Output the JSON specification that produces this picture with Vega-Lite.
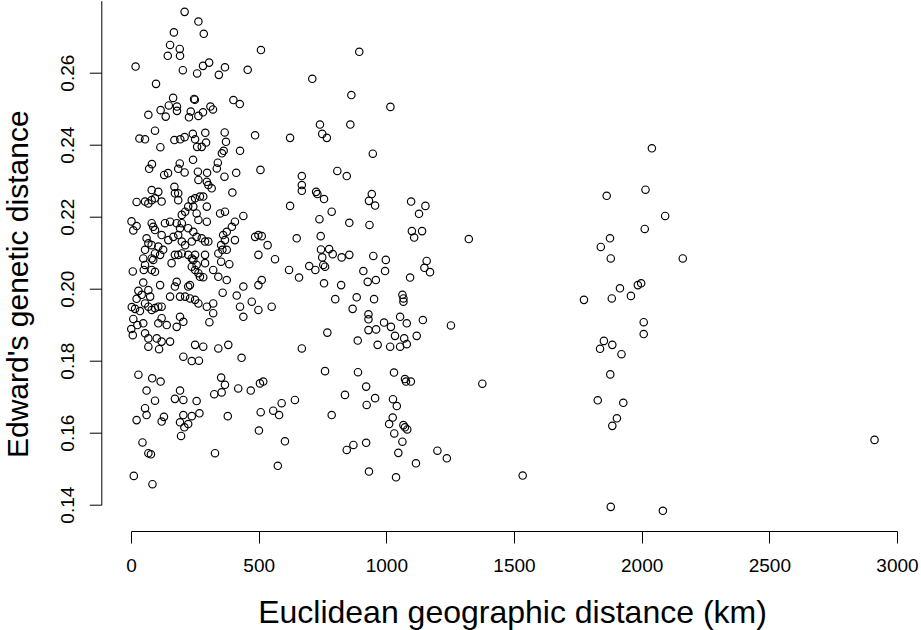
{
"$schema":"https://vega.github.io/schema/vega-lite/v6.json",
"width":766,"height":504,
"autosize":{"type":"none"},
"padding":{"left":131,"top":0.7,"right":24,"bottom":125.3},
"background":"white",
"config":{"view":{"stroke":null},"font":"Liberation Sans"},
"data":{"values":[
{"km":210,"d":0.2769},{"km":264,"d":0.2742},{"km":168,"d":0.2712},{"km":285,"d":0.2708},{"km":153,"d":0.2677},{"km":191,"d":0.2666},{"km":144,"d":0.2647},{"km":192,"d":0.2647},{"km":509,"d":0.2663},{"km":306,"d":0.2628},{"km":282,"d":0.2619},{"km":203,"d":0.2607},{"km":259,"d":0.2598},{"km":368,"d":0.2615},{"km":344,"d":0.2594},{"km":457,"d":0.2608},{"km":98,"d":0.2569},{"km":165,"d":0.253},{"km":247,"d":0.2527},{"km":250,"d":0.2525},{"km":401,"d":0.2524},{"km":426,"d":0.2513},{"km":148,"d":0.2509},{"km":180,"d":0.2506},{"km":116,"d":0.2496},{"km":68,"d":0.2483},{"km":136,"d":0.2478},{"km":180,"d":0.2494},{"km":234,"d":0.2492},{"km":227,"d":0.2476},{"km":264,"d":0.248},{"km":282,"d":0.249},{"km":311,"d":0.2506},{"km":321,"d":0.2498},{"km":94,"d":0.2439},{"km":55,"d":0.2415},{"km":115,"d":0.2393},{"km":170,"d":0.2413},{"km":193,"d":0.2415},{"km":210,"d":0.2421},{"km":242,"d":0.243},{"km":291,"d":0.2433},{"km":251,"d":0.2415},{"km":259,"d":0.2394},{"km":277,"d":0.2394},{"km":294,"d":0.2406},{"km":367,"d":0.2434},{"km":372,"d":0.2408},{"km":363,"d":0.2383},{"km":356,"d":0.2376},{"km":427,"d":0.2383},{"km":486,"d":0.2426},{"km":623,"d":0.2419},{"km":243,"d":0.2358},{"km":82,"d":0.2346},{"km":71,"d":0.2333},{"km":130,"d":0.2316},{"km":145,"d":0.2321},{"km":191,"d":0.2348},{"km":185,"d":0.2333},{"km":210,"d":0.2323},{"km":262,"d":0.2325},{"km":298,"d":0.2322},{"km":340,"d":0.235},{"km":336,"d":0.2334},{"km":366,"d":0.2311},{"km":412,"d":0.2322},{"km":507,"d":0.233},{"km":669,"d":0.2313},
{"km":81,"d":0.2274},{"km":107,"d":0.2269},{"km":170,"d":0.2283},{"km":172,"d":0.2265},{"km":185,"d":0.2265},{"km":185,"d":0.2246},{"km":264,"d":0.2302},{"km":297,"d":0.2297},{"km":303,"d":0.2288},{"km":316,"d":0.2279},{"km":397,"d":0.2267},{"km":669,"d":0.2288},{"km":669,"d":0.2272},{"km":55,"d":0.2242},{"km":68,"d":0.2237},{"km":81,"d":0.2246},{"km":94,"d":0.2251},{"km":120,"d":0.2242},{"km":238,"d":0.2246},{"km":251,"d":0.2251},{"km":270,"d":0.2256},{"km":283,"d":0.2256},{"km":297,"d":0.2228},{"km":224,"d":0.2228},{"km":244,"d":0.2228},{"km":212,"d":0.2214},{"km":199,"d":0.2205},{"km":257,"d":0.2209},{"km":264,"d":0.2191},{"km":297,"d":0.2186},{"km":349,"d":0.2209},{"km":368,"d":0.2214},{"km":440,"d":0.2202},{"km":407,"d":0.2186},{"km":395,"d":0.2172},{"km":375,"d":0.2158},{"km":623,"d":0.223},{"km":81,"d":0.2182},{"km":87,"d":0.2172},{"km":94,"d":0.2163},{"km":133,"d":0.2182},{"km":153,"d":0.2186},{"km":179,"d":0.2182},{"km":192,"d":0.2168},{"km":199,"d":0.2182},{"km":224,"d":0.2168},{"km":244,"d":0.2158},{"km":185,"d":0.2149},{"km":166,"d":0.2144},{"km":146,"d":0.2135},{"km":120,"d":0.2149},{"km":61,"d":0.214},{"km":68,"d":0.2126},{"km":81,"d":0.2121},{"km":55,"d":0.2108},{"km":107,"d":0.2117},{"km":126,"d":0.2108},{"km":94,"d":0.2098},{"km":114,"d":0.2094},{"km":81,"d":0.2084},{"km":199,"d":0.2131},{"km":212,"d":0.2121},{"km":238,"d":0.2131},{"km":257,"d":0.2144},{"km":277,"d":0.214},{"km":290,"d":0.2131},{"km":303,"d":0.2131},{"km":361,"d":0.2149},{"km":368,"d":0.2135},{"km":353,"d":0.2121},{"km":358,"d":0.2108},{"km":375,"d":0.2108},{"km":342,"d":0.2098},{"km":407,"d":0.2135},{"km":486,"d":0.2144},{"km":499,"d":0.2149},{"km":512,"d":0.2146},{"km":535,"d":0.2121},{"km":649,"d":0.214},{"km":172,"d":0.2094},{"km":185,"d":0.2094},{"km":199,"d":0.2098},{"km":224,"d":0.2094},{"km":238,"d":0.2084},{"km":251,"d":0.2094},{"km":244,"d":0.208},{"km":257,"d":0.2066},{"km":238,"d":0.2061},{"km":290,"d":0.2094},{"km":290,"d":0.2071},{"km":159,"d":0.2071},{"km":87,"d":0.208},{"km":81,"d":0.2052},{"km":94,"d":0.2047},{"km":55,"d":0.2066},{"km":50,"d":0.2052},{"km":114,"d":0.201},{"km":499,"d":0.2094},{"km":564,"d":0.2082},{"km":353,"d":0.2075},{"km":385,"d":0.2068},{"km":322,"d":0.2052},{"km":342,"d":0.2033},{"km":375,"d":0.2024},{"km":251,"d":0.2052},{"km":264,"d":0.2043},{"km":270,"d":0.2033},{"km":283,"d":0.2032},{"km":179,"d":0.2019},{"km":172,"d":0.2006},{"km":224,"d":0.2006},{"km":231,"d":0.201},{"km":619,"d":0.2052},{"km":658,"d":0.2031},{"km":499,"d":0.201},{"km":512,"d":0.2024},{"km":440,"d":0.2006},{"km":414,"d":0.1981},{"km":359,"d":0.1989},{"km":68,"d":0.1996},{"km":75,"d":0.1978},{"km":153,"d":0.1978},{"km":192,"d":0.1978},{"km":212,"d":0.1978},{"km":231,"d":0.1973},{"km":251,"d":0.1969},{"km":264,"d":0.1959},{"km":297,"d":0.195},{"km":322,"d":0.1959},{"km":322,"d":0.1932},{"km":427,"d":0.195},{"km":473,"d":0.1964},{"km":499,"d":0.1941},{"km":440,"d":0.1922},{"km":551,"d":0.195},{"km":55,"d":0.1959},{"km":68,"d":0.195},{"km":81,"d":0.1941},{"km":94,"d":0.1946},{"km":107,"d":0.195},{"km":120,"d":0.195},{"km":120,"d":0.1918},{"km":107,"d":0.1904},{"km":140,"d":0.1899},{"km":179,"d":0.1894},{"km":192,"d":0.1922},{"km":205,"d":0.1908},{"km":307,"d":0.1907},{"km":55,"d":0.1876},{"km":68,"d":0.1862},{"km":101,"d":0.1862},{"km":120,"d":0.1853},{"km":153,"d":0.1853},{"km":251,"d":0.1844},{"km":283,"d":0.1839},{"km":342,"d":0.1834},{"km":381,"d":0.1844},{"km":669,"d":0.1834},
{"km":18,"d":0.2617},{"km":33,"d":0.2417},{"km":22,"d":0.2241},{"km":2,"d":0.2187},{"km":9,"d":0.2162},{"km":22,"d":0.2174},{"km":7,"d":0.2048},{"km":29,"d":0.1994},{"km":42,"d":0.1983},{"km":22,"d":0.1972},{"km":3,"d":0.1949},{"km":16,"d":0.1944},{"km":9,"d":0.1916},{"km":1,"d":0.1888},{"km":7,"d":0.1871},{"km":25,"d":0.1899},{"km":48,"d":0.1904},{"km":35,"d":0.1938},{"km":48,"d":0.2017},{"km":29,"d":0.1761},{"km":22,"d":0.1635},{"km":11,"d":0.148},{"km":84,"d":0.1457},{"km":48,"d":0.2084},
{"km":68,"d":0.1839},{"km":110,"d":0.1832},{"km":433,"d":0.1808},{"km":205,"d":0.1811},{"km":238,"d":0.1799},{"km":266,"d":0.18},{"km":83,"d":0.1751},{"km":116,"d":0.1742},{"km":61,"d":0.1717},{"km":94,"d":0.1689},{"km":55,"d":0.1668},{"km":61,"d":0.1649},{"km":192,"d":0.1717},{"km":172,"d":0.1694},{"km":205,"d":0.1691},{"km":257,"d":0.1688},{"km":353,"d":0.1753},{"km":368,"d":0.1733},{"km":326,"d":0.1707},{"km":355,"d":0.1712},{"km":420,"d":0.1723},{"km":469,"d":0.1717},{"km":505,"d":0.1737},{"km":518,"d":0.1742},{"km":642,"d":0.1691},{"km":590,"d":0.1682},{"km":557,"d":0.1661},{"km":580,"d":0.1649},{"km":508,"d":0.1657},{"km":129,"d":0.1644},{"km":120,"d":0.1631},{"km":205,"d":0.1649},{"km":238,"d":0.1646},{"km":268,"d":0.1654},{"km":192,"d":0.1629},{"km":224,"d":0.1624},{"km":209,"d":0.1615},{"km":379,"d":0.1646},{"km":196,"d":0.1591},{"km":501,"d":0.1606},{"km":603,"d":0.1576},{"km":45,"d":0.1573},{"km":68,"d":0.1543},{"km":78,"d":0.154},{"km":329,"d":0.1543},{"km":575,"d":0.1508},
{"km":894,"d":0.2658},{"km":710,"d":0.2583},{"km":863,"d":0.2538},{"km":1016,"d":0.2505},{"km":740,"d":0.2456},{"km":749,"d":0.243},{"km":767,"d":0.2419},{"km":859,"d":0.2456},{"km":947,"d":0.2375},{"km":808,"d":0.2327},{"km":845,"d":0.2313},
{"km":725,"d":0.2269},{"km":730,"d":0.2263},{"km":756,"d":0.2249},{"km":786,"d":0.2214},{"km":738,"d":0.2193},{"km":855,"d":0.2183},{"km":934,"d":0.2177},{"km":943,"d":0.2263},{"km":932,"d":0.2244},{"km":956,"d":0.2231},{"km":1097,"d":0.2242},{"km":1153,"d":0.223},{"km":1128,"d":0.2208},{"km":1100,"d":0.216},{"km":1140,"d":0.216},{"km":1109,"d":0.2142},{"km":743,"d":0.2146},{"km":744,"d":0.2109},{"km":776,"d":0.211},{"km":790,"d":0.2096},{"km":825,"d":0.2087},{"km":855,"d":0.2094},{"km":749,"d":0.2087},{"km":753,"d":0.2066},{"km":760,"d":0.2061},{"km":698,"d":0.2063},{"km":722,"d":0.2052},{"km":949,"d":0.2091},{"km":998,"d":0.208},{"km":995,"d":0.2049},{"km":910,"d":0.2049},{"km":1158,"d":0.2077},{"km":1149,"d":0.2058},{"km":1171,"d":0.2046},{"km":927,"d":0.2019},{"km":959,"d":0.2024},{"km":1093,"d":0.2031},{"km":756,"d":0.2015},{"km":823,"d":0.201},{"km":800,"d":0.1971},{"km":884,"d":0.1976},{"km":868,"d":0.1944},{"km":952,"d":0.1971},{"km":1063,"d":0.1983},{"km":1067,"d":0.1973},{"km":1067,"d":0.1964},{"km":930,"d":0.1929},{"km":930,"d":0.1915},{"km":1054,"d":0.1922},{"km":1080,"d":0.1904},{"km":1143,"d":0.1913},{"km":1253,"d":0.1898},{"km":769,"d":0.1878},{"km":991,"d":0.1906},{"km":1018,"d":0.1894},{"km":960,"d":0.1887},{"km":930,"d":0.1885},{"km":1034,"d":0.1869},{"km":1070,"d":0.1862},{"km":1119,"d":0.1869},{"km":888,"d":0.1856},{"km":966,"d":0.1844},{"km":1015,"d":0.1839},{"km":1054,"d":0.1839},{"km":1080,"d":0.1846},
{"km":760,"d":0.1771},{"km":889,"d":0.1768},{"km":1030,"d":0.1767},{"km":1073,"d":0.1749},{"km":1077,"d":0.1742},{"km":1096,"d":0.1742},{"km":921,"d":0.1728},{"km":838,"d":0.1705},{"km":956,"d":0.1696},{"km":923,"d":0.1677},{"km":1026,"d":0.1693},{"km":1041,"d":0.1674},{"km":786,"d":0.1649},{"km":1025,"d":0.1642},{"km":1011,"d":0.1624},{"km":1031,"d":0.1598},{"km":1067,"d":0.1621},{"km":1073,"d":0.1615},{"km":1082,"d":0.1609},{"km":1063,"d":0.1575},{"km":871,"d":0.1566},{"km":845,"d":0.1552},{"km":921,"d":0.1572},{"km":1047,"d":0.1544},{"km":1200,"d":0.155},{"km":1237,"d":0.1529},{"km":1116,"d":0.1515},{"km":932,"d":0.1492},{"km":1038,"d":0.1476},
{"km":2040,"d":0.239},{"km":1863,"d":0.2258},{"km":2015,"d":0.2275},{"km":2012,"d":0.2166},{"km":1323,"d":0.2138},{"km":1876,"d":0.214},{"km":1840,"d":0.2116},{"km":1879,"d":0.2084},
{"km":1915,"d":0.2001},{"km":1958,"d":0.198},{"km":1883,"d":0.1973},{"km":1985,"d":0.201},{"km":1998,"d":0.2015},{"km":1774,"d":0.1969},{"km":2008,"d":0.1907},{"km":2008,"d":0.1874},{"km":1852,"d":0.1855},{"km":1837,"d":0.1833},{"km":1885,"d":0.1844},{"km":1921,"d":0.1818},{"km":1877,"d":0.1762},{"km":1376,"d":0.1736},{"km":1828,"d":0.169},{"km":1928,"d":0.1683},{"km":1903,"d":0.164},{"km":1885,"d":0.1619},{"km":1534,"d":0.1481},{"km":1879,"d":0.1394},
{"km":2092,"d":0.2202},{"km":2161,"d":0.2084},{"km":2912,"d":0.158},{"km":2083,"d":0.1383}
]},
"mark":{"type":"point","shape":"circle","filled":false,"stroke":"black","strokeWidth":1.15,"size":55,"opacity":1,"clip":false},
"encoding":{
"x":{"field":"km","type":"quantitative","scale":{"domain":[0,3000],"nice":false,"zero":false},
"axis":{"values":[0,500,1000,1500,2000,2500,3000],"format":"d","offset":26.3,"grid":false,"tickSize":12,"tickColor":"black","tickWidth":1,"domainColor":"black","domainWidth":1,"labelColor":"black","labelFont":"Liberation Sans","labelFontSize":19,"labelBaseline":"alphabetic","labelPadding":28,"labelFlush":false,"labelOverlap":false,"title":"Euclidean geographic distance (km)","titleFont":"Liberation Sans","titleFontSize":32,"titleFontWeight":"normal","titleColor":"black","titleAlign":"center","titleBaseline":"alphabetic","titleX":381,"titleY":91}},
"y":{"field":"d","type":"quantitative","scale":{"domain":[0.14,0.28],"nice":false,"zero":false},
"axis":{"values":[0.14,0.16,0.18,0.2,0.22,0.24,0.26],"format":".2f","offset":29.7,"grid":false,"tickSize":12,"tickColor":"black","tickWidth":1,"domainColor":"black","domainWidth":1,"labelColor":"black","labelFont":"Liberation Sans","labelFontSize":19,"labelAngle":270,"labelAlign":"center","labelBaseline":"alphabetic","labelPadding":15.8,"labelFlush":false,"labelOverlap":false,"title":"Edward's genetic distance","titleFont":"Liberation Sans","titleFontSize":30,"titleFontWeight":"normal","titleColor":"black","titleAngle":270,"titleAlign":"center","titleBaseline":"alphabetic","titleX":-74,"titleY":283}}
}
}
